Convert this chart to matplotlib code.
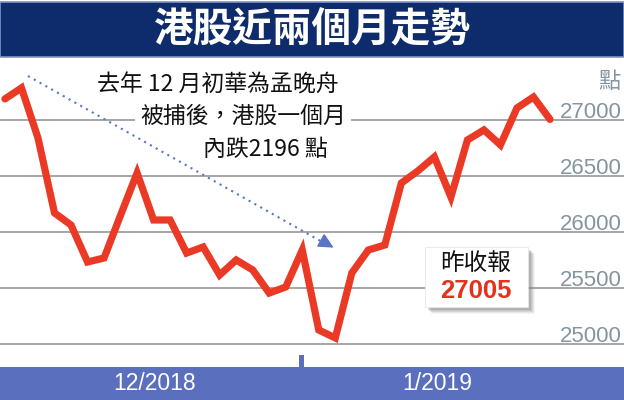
import matplotlib
matplotlib.use("Agg")
import matplotlib.pyplot as plt
from matplotlib.patches import Rectangle
from matplotlib.lines import Line2D

# Hang Seng closes (late Nov 2018 - Jan 2019)
closes = [27188, 27286, 26839, 26170, 26062, 25732, 25768, 26150, 26527, 26107,
          26107, 25812, 25866, 25616, 25750, 25661, 25455, 25509, 25839, 25125,
          25054, 25634, 25839, 25884, 26437, 26545, 26670, 26312, 26821, 26911,
          26777, 27107, 27205, 27005]
yticks = [25000, 25500, 26000, 26500, 27000]
month_labels = ["12/2018", "1/2019"]
title = "港股近兩個月走勢"
note_lines = ["去年 12 月初華為孟晚舟", "被捕後，港股一個月", "內跌2196 點"]
last_label = "昨收報"
last_value = "27005"

W, H = 624, 400
cjk = ["Noto Sans CJK TC", "DejaVu Sans"]
num_font = ["Liberation Sans", "DejaVu Sans"]


def fx(px):
    return px / W


def fy(py):
    return 1 - py / H


fig = plt.figure(figsize=(W / 100, H / 100), dpi=100)
fig.patch.set_facecolor("white")
ax = fig.add_axes([0, 0, 1, 1])
ax.axis("off")
ax.set_xlim(-0.3, 37.48)
ax.set_ylim(24500, 28071)

for v in yticks:
    ax.axhline(v, color="#9f9f9f", lw=1.3, zorder=1)
    ax.text(fx(622), fy(120 - (v - 27000) * 0.112 - 2), f"{v}", transform=fig.transFigure,
            ha="right", va="baseline", fontsize=16, color="#8595a0", family=num_font, zorder=2)
fig.text(fx(621), fy(82), "點", ha="right", va="center", fontsize=16, color="#8595a0", family=cjk)

ax.plot(range(len(closes)), closes, color="#ea3a26", lw=5.2, solid_joinstyle="miter",
        solid_capstyle="round", zorder=4)

# title band
fig.patches.append(Rectangle((0, fy(57)), 1, fy(2) - fy(57), transform=fig.transFigure,
                             facecolor="#0e2b6c", edgecolor="#8094c6", lw=1.2, zorder=5))
fig.text(0.5, fy(30), title, ha="center", va="center", fontsize=28.5, fontweight="heavy",
         color="white", family=cjk, zorder=6)

# bottom month band
band = "#5b6fbf"
fig.patches.append(Rectangle((0, 0), 1, fy(367), transform=fig.transFigure,
                             facecolor=band, edgecolor="none", zorder=5))
fig.patches.append(Rectangle((fx(299), fy(367)), fx(5), fy(355) - fy(367),
                             transform=fig.transFigure, facecolor=band, edgecolor="none", zorder=5))
fig.text(fx(155), fy(383), month_labels[0], ha="center", va="center", fontsize=16.5,
         color="white", family=num_font, zorder=6)
fig.text(fx(437), fy(383), month_labels[1], ha="center", va="center", fontsize=16.5,
         color="white", family=num_font, zorder=6)

# annotation text
note_pos = [(97, 85), (140, 116), (203, 150)]
for (x0, y0), line in zip(note_pos, note_lines):
    fig.text(fx(x0), fy(y0), line, ha="left", va="center", fontsize=16.5, color="#111111",
             family=cjk, zorder=6,
             bbox=dict(facecolor="white", edgecolor="none", pad=4))

# dotted arrow
blue = "#5a74c6"
fig.add_artist(Line2D([fx(28), fx(324)], [fy(76), fy(243)], color=blue, lw=1.5,
                      linestyle=(0, (1, 2.2)), zorder=3))
ax.annotate("", xy=(fx(336), fy(249)), xytext=(fx(322), fy(241)), xycoords="figure fraction",
            textcoords="figure fraction",
            arrowprops=dict(arrowstyle="-|>,head_length=0.9,head_width=0.45", color=blue, lw=1.2))

# last close box with shadow
for off, a in [(7, 0.08), (6, 0.12), (5, 0.16), (4, 0.2), (3, 0.25)]:
    fig.patches.append(Rectangle((fx(425 + off), fy(307 + off)), fx(103), fy(247) - fy(307),
                                 transform=fig.transFigure, facecolor="#808080", alpha=a,
                                 edgecolor="none", zorder=6))
fig.patches.append(Rectangle((fx(425), fy(307)), fx(103), fy(247) - fy(307),
                             transform=fig.transFigure, facecolor="white",
                             edgecolor="#e6e6e6", lw=0.6, zorder=7))
fig.text(fx(476), fy(263), last_label, ha="center", va="center", fontsize=17, color="#111111",
         family=cjk, zorder=8)
fig.text(fx(476), fy(291), last_value, ha="center", va="center", fontsize=18.5,
         fontweight="bold", color="#e3321e", zorder=8, family=num_font)

fig.savefig("out.png", dpi=100)
